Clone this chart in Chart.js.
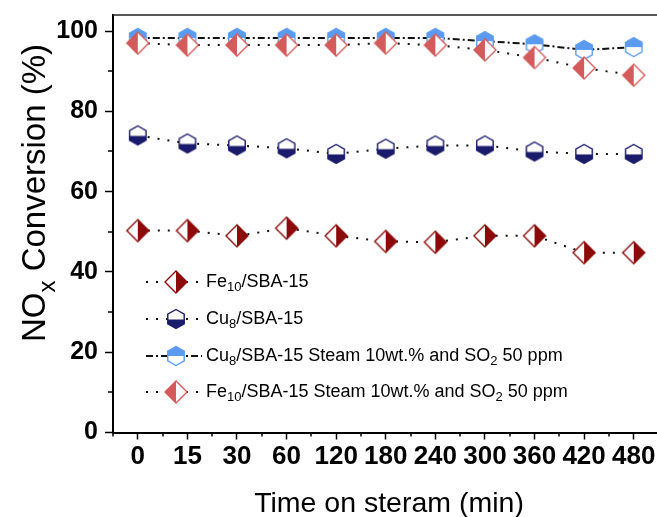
<!DOCTYPE html>
<html lang="en">
<head>
<meta charset="UTF-8">
<title>NOx Conversion</title>
<script src="https://cdn.jsdelivr.net/npm/chart.js"></script>
<style>
  html, body { margin: 0; padding: 0; background: #fff; overflow: hidden; }
</style>
</head>
<body>
<canvas id="noxChart" width="657" height="517"></canvas>
<script>
// time on stream (min) - category labels
const times = ['0', '15', '30', '60', '120', '180', '240', '300', '360', '420', '480'];
const yTicks = [0, 20, 40, 60, 80, 100];
const yMinor = [10, 30, 50, 70, 90];

// NOx conversion (%)
const fe10 = [50.3, 50.3, 49, 50.9, 49, 47.6, 47.4, 49, 49, 44.8, 44.8];
const cu8 = [74, 72, 71.5, 70.8, 69.4, 70.7, 71.5, 71.5, 70, 69.4, 69.4];
const cu8Steam = [98.3, 98.3, 98.3, 98.3, 98.3, 98.3, 98.3, 97.5, 96.7, 95.3, 96];
const fe10Steam = [97, 96.5, 96.5, 96.5, 96.5, 97, 96.5, 95.3, 93.4, 90.8, 89];

const FONT = '"Liberation Sans", Arial, sans-serif';
const NARROW = '"Liberation Sans Narrow", "Liberation Sans", Arial, sans-serif';

// half filled hexagon, pointy top/bottom
function hexMarker(color, fillTop) {
    const c = document.createElement('canvas');
    c.width = 22; c.height = 24;
    const ctx = c.getContext('2d');
    const r = 9.5, w = r * Math.cos(Math.PI / 6);
    ctx.translate(11, 12);
    const path = () => {
        ctx.beginPath();
        ctx.moveTo(0, -r); ctx.lineTo(w, -r / 2); ctx.lineTo(w, r / 2);
        ctx.lineTo(0, r); ctx.lineTo(-w, r / 2); ctx.lineTo(-w, -r / 2);
        ctx.closePath();
    };
    path(); ctx.fillStyle = '#fff'; ctx.fill();
    ctx.save();
    ctx.beginPath();
    if (fillTop) ctx.rect(-12, -12, 24, 12); else ctx.rect(-12, 0.5, 24, 12);
    ctx.clip();
    path(); ctx.fillStyle = color; ctx.fill();
    ctx.restore();
    path(); ctx.strokeStyle = color; ctx.lineWidth = 1.4; ctx.stroke();
    return c;
}

// half filled diamond
function diamondMarker(color, fillRight) {
    const c = document.createElement('canvas');
    c.width = 26; c.height = 26;
    const ctx = c.getContext('2d');
    const h = 11;
    ctx.translate(13, 13);
    const path = () => {
        ctx.beginPath();
        ctx.moveTo(0, -h); ctx.lineTo(h, 0); ctx.lineTo(0, h); ctx.lineTo(-h, 0);
        ctx.closePath();
    };
    path(); ctx.fillStyle = '#fff'; ctx.fill();
    ctx.save();
    ctx.beginPath();
    if (fillRight) ctx.rect(0, -14, 14, 28); else ctx.rect(-14, -14, 14, 28);
    ctx.clip();
    path(); ctx.fillStyle = color; ctx.fill();
    ctx.restore();
    path(); ctx.strokeStyle = color; ctx.lineWidth = 1.4; ctx.stroke();
    return c;
}

const series = [
    { name: [['Fe'], ['10', 1], ['/SBA-15']], values: fe10, marker: diamondMarker('#8b0a0a', true), dash: [2, 8], order: 3 },
    { name: [['Cu'], ['8', 1], ['/SBA-15']], values: cu8, marker: hexMarker('#1b1b6b', false), dash: [2, 8], order: 2 },
    { name: [['Cu'], ['8', 1], ['/SBA-15 Steam 10wt.% and SO'], ['2', 1], [' 50 ppm']], values: cu8Steam, marker: hexMarker('#5b9bef', true), dash: [7, 3, 2, 3], order: 1 },
    { name: [['Fe'], ['10', 1], ['/SBA-15 Steam 10wt.% and SO'], ['2', 1], [' 50 ppm']], values: fe10Steam, marker: diamondMarker('#d45b5b', false), dash: [2, 8], order: 0 }
];

function drawRich(ctx, parts, x, y, size) {
    for (const [txt, sub] of parts) {
        ctx.font = (sub ? Math.round(size * 0.72) : size) + 'px ' + FONT;
        ctx.fillText(txt, x, sub ? y + size * 0.3 : y);
        x += ctx.measureText(txt).width;
    }
    return x;
}

const decorPlugin = {
    id: 'decor',
    afterDraw(chart) {
        const ctx = chart.ctx, area = chart.chartArea;
        const xs = chart.scales.x, ys = chart.scales.y;
        ctx.save();
        // top frame line
        ctx.strokeStyle = '#222';
        ctx.lineWidth = 1.5;
        ctx.beginPath();
        ctx.moveTo(area.left, area.top);
        ctx.lineTo(area.right, area.top);
        ctx.stroke();
        // minor ticks
        ctx.strokeStyle = '#000';
        ctx.lineWidth = 1.5;
        ctx.beginPath();
        for (let k = -0.5; k < times.length; k += 1) {
            const px = Math.round(xs.getPixelForValue(k));
            if (px > area.right) continue;
            ctx.moveTo(px, area.bottom);
            ctx.lineTo(px, area.bottom + 4);
        }
        for (const v of yMinor) {
            const py = Math.round(ys.getPixelForValue(v));
            ctx.moveTo(area.left - 5, py);
            ctx.lineTo(area.left, py);
        }
        ctx.stroke();

        // axis titles
        ctx.fillStyle = '#000';
        ctx.textBaseline = 'alphabetic';
        ctx.textAlign = 'left';
        ctx.font = '28.5px ' + FONT;
        const xt = 'Time on steram (min)';
        ctx.fillText(xt, 389 - ctx.measureText(xt).width / 2, 512);

        const ySize = 33;
        const yParts = [['NO'], ['x', 1], [' Conversion (%)']];
        let len = 0;
        for (const [t, s] of yParts) {
            ctx.font = (s ? Math.round(ySize * 0.72) : ySize) + 'px ' + FONT;
            len += ctx.measureText(t).width;
        }
        ctx.save();
        ctx.translate(45, 193);
        ctx.rotate(-Math.PI / 2);
        drawRich(ctx, yParts, -len / 2, 0, ySize);
        ctx.restore();

        // legend
        const rows = [282, 319, 356, 392];
        series.forEach((s, i) => {
            const y = rows[i];
            ctx.save();
            ctx.strokeStyle = '#111';
            ctx.lineWidth = 2;
            ctx.setLineDash(s.dash);
            ctx.beginPath();
            ctx.moveTo(146, y);
            ctx.lineTo(202, y);
            ctx.stroke();
            ctx.restore();
            ctx.drawImage(s.marker, 176 - s.marker.width / 2, y - s.marker.height / 2);
            ctx.fillStyle = '#000';
            ctx.textBaseline = 'middle';
            drawRich(ctx, s.name, 206, y, 18);
        });
        ctx.restore();
    }
};

new Chart(document.getElementById('noxChart'), {
    type: 'line',
    data: {
        datasets: series.map(s => ({
            data: s.values.map((v, i) => ({ x: i, y: v })),
            borderColor: '#111',
            borderWidth: 2,
            borderDash: s.dash,
            pointStyle: s.marker,
            pointRadius: 10,
            pointHoverRadius: 10,
            fill: false,
            tension: 0,
            order: s.order
        }))
    },
    options: {
        responsive: false,
        animation: false,
        devicePixelRatio: 1,
        layout: { autoPadding: false, padding: { top: 15, right: 0, left: 0, bottom: 0 } },
        plugins: { legend: { display: false }, tooltip: { enabled: false } },
        scales: {
            x: {
                type: 'linear',
                min: -0.5,
                max: 10.47,
                afterBuildTicks: s => { s.ticks = times.map((t, i) => ({ value: i })); },
                afterFit: s => { s.height = 84.5; s.paddingLeft = 0; s.paddingRight = 0; },
                ticks: {
                    autoSkip: false,
                    maxRotation: 0,
                    padding: 2,
                    color: '#000',
                    font: { family: NARROW, size: 26, weight: 'bold' },
                    callback: v => times[v]
                },
                grid: { drawOnChartArea: false, tickLength: 7, tickWidth: 1.5, tickColor: '#000' },
                border: { color: '#000', width: 2 }
            },
            y: {
                min: 0,
                max: 104,
                afterBuildTicks: s => { s.ticks = yTicks.map(v => ({ value: v })); },
                afterFit: s => { s.width = 113; s.paddingTop = 0; s.paddingBottom = 0; },
                ticks: {
                    padding: 7,
                    color: '#000',
                    font: { family: FONT, size: 25, weight: 'bold' }
                },
                grid: { drawOnChartArea: false, tickLength: 8, tickWidth: 1.5, tickColor: '#000' },
                border: { color: '#000', width: 2 }
            }
        }
    },
    plugins: [decorPlugin]
});
</script>
</body>
</html>
